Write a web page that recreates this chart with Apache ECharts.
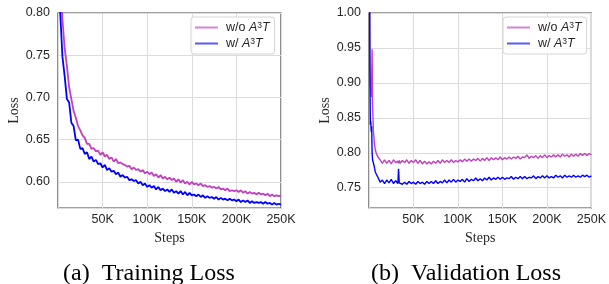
<!DOCTYPE html>
<html>
<head>
<meta charset="utf-8">
<script src="https://cdn.jsdelivr.net/npm/echarts@6/dist/echarts.min.js"></script>
<style>html,body{margin:0;padding:0;background:#fff;}#c{width:609px;height:284px;}</style>
</head>
<body>
<div id="c"></div>
<script>
// ---- data (steps in thousands) ----
const seriesNames = ['w/o A3T', 'w/ A3T'];
const xTickLabels = ['50K', '100K', '150K', '200K', '250K'];
const captions = ['(a)  Training Loss', '(b)  Validation Loss'];

const trainSteps = [
  1, 2.5, 5, 7.5, 10, 12.5, 15, 17.5, 20, 22.5,
  25, 27.5, 30, 32.5, 35, 37.5, 40, 42.5, 45, 47.5,
  50, 52.5, 55, 57.5, 60, 62.5, 65, 67.5, 70, 72.5,
  75, 77.5, 80, 82.5, 85, 87.5, 90, 92.5, 95, 97.5,
  100, 102.5, 105, 107.5, 110, 112.5, 115, 117.5, 120, 122.5,
  125, 127.5, 130, 132.5, 135, 137.5, 140, 142.5, 145, 147.5,
  150, 152.5, 155, 157.5, 160, 162.5, 165, 167.5, 170, 172.5,
  175, 177.5, 180, 182.5, 185, 187.5, 190, 192.5, 195, 197.5,
  200, 202.5, 205, 207.5, 210, 212.5, 215, 217.5, 220, 222.5,
  225, 227.5, 230, 232.5, 235, 237.5, 240, 242.5, 245, 247.5,
  250
];
const trainWo = [
  0.95, 0.862, 0.792, 0.758, 0.737, 0.712, 0.698, 0.684, 0.676, 0.666,
  0.661, 0.655, 0.652, 0.645, 0.645, 0.639, 0.640, 0.636, 0.637, 0.632,
  0.635, 0.630, 0.632, 0.627, 0.629, 0.624, 0.627, 0.622, 0.623, 0.621,
  0.620, 0.618, 0.619, 0.615, 0.617, 0.614, 0.615, 0.612, 0.614, 0.610,
  0.612, 0.609, 0.611, 0.607, 0.609, 0.605, 0.608, 0.604, 0.606, 0.603,
  0.605, 0.602, 0.604, 0.600, 0.603, 0.599, 0.602, 0.598, 0.600, 0.597,
  0.600, 0.597, 0.598, 0.596, 0.598, 0.595, 0.596, 0.594, 0.595, 0.593,
  0.594, 0.592, 0.594, 0.591, 0.592, 0.590, 0.592, 0.589, 0.590, 0.589,
  0.590, 0.588, 0.590, 0.587, 0.589, 0.586, 0.588, 0.586, 0.587, 0.585,
  0.587, 0.585, 0.586, 0.584, 0.586, 0.583, 0.585, 0.583, 0.584, 0.583,
  0.584
];
const trainW = [
  0.90, 0.80, 0.748, 0.725, 0.698, 0.694, 0.670, 0.666, 0.649, 0.650,
  0.639, 0.640, 0.633, 0.635, 0.627, 0.630, 0.624, 0.626, 0.621, 0.622,
  0.617, 0.620, 0.614, 0.616, 0.612, 0.613, 0.609, 0.611, 0.606, 0.608,
  0.605, 0.606, 0.602, 0.603, 0.601, 0.602, 0.598, 0.600, 0.596, 0.598,
  0.594, 0.596, 0.593, 0.595, 0.591, 0.594, 0.590, 0.592, 0.589, 0.591,
  0.588, 0.591, 0.587, 0.589, 0.586, 0.589, 0.585, 0.588, 0.584, 0.587,
  0.584, 0.585, 0.583, 0.585, 0.582, 0.584, 0.581, 0.583, 0.581, 0.582,
  0.580, 0.582, 0.579, 0.581, 0.579, 0.580, 0.578, 0.580, 0.578, 0.579,
  0.577, 0.579, 0.576, 0.578, 0.576, 0.578, 0.575, 0.577, 0.575, 0.576,
  0.575, 0.576, 0.574, 0.576, 0.574, 0.575, 0.573, 0.575, 0.573, 0.574,
  0.573
];

const valSteps = [
  0.5, 1, 1.5, 2, 2.5, 3, 3.5, 4, 5, 6, 7, 8, 9,
  10, 12.5, 15, 17.5, 20, 22.5, 25, 27.5, 30, 32.5, 33.2, 34,
  35, 37.5, 40, 42.5, 45, 47.5,
  50, 52.5, 55, 57.5, 60, 62.5, 65, 67.5, 70, 72.5,
  75, 77.5, 80, 82.5, 85, 87.5, 90, 92.5, 95, 97.5,
  100, 102.5, 105, 107.5, 110, 112.5, 115, 117.5, 120, 122.5,
  125, 127.5, 130, 132.5, 135, 137.5, 140, 142.5, 145, 147.5,
  150, 152.5, 155, 157.5, 160, 162.5, 165, 167.5, 170, 172.5,
  175, 177.5, 180, 182.5, 185, 187.5, 190, 192.5, 195, 197.5,
  200, 202.5, 205, 207.5, 210, 212.5, 215, 217.5, 220, 222.5,
  225, 227.5, 230, 232.5, 235, 237.5, 240, 242.5, 245, 247.5,
  250
];
const valWo = [
  1.10, 0.93, 0.90, 0.89, 0.88, 0.90, 0.948, 0.87, 0.83, 0.815, 0.805, 0.80, 0.797,
  0.794, 0.790, 0.785, 0.790, 0.785, 0.789, 0.784, 0.790, 0.786, 0.788, 0.785, 0.789,
  0.785, 0.789, 0.786, 0.790, 0.785, 0.789,
  0.786, 0.790, 0.785, 0.789, 0.784, 0.788, 0.784, 0.787, 0.784, 0.788,
  0.785, 0.789, 0.785, 0.790, 0.786, 0.789, 0.786, 0.790, 0.786, 0.789,
  0.787, 0.790, 0.787, 0.791, 0.788, 0.791, 0.788, 0.791, 0.789, 0.792,
  0.788, 0.792, 0.789, 0.793, 0.789, 0.793, 0.790, 0.793, 0.790, 0.794,
  0.790, 0.793, 0.791, 0.794, 0.791, 0.794, 0.792, 0.795, 0.791, 0.794,
  0.793, 0.797, 0.792, 0.795, 0.793, 0.796, 0.792, 0.796, 0.793, 0.797,
  0.793, 0.796, 0.794, 0.797, 0.794, 0.797, 0.794, 0.798, 0.795, 0.797,
  0.794, 0.798, 0.795, 0.798, 0.795, 0.799, 0.796, 0.799, 0.796, 0.799,
  0.797
];
const valW = [
  1.10, 0.92, 0.84, 0.845, 0.83, 0.838, 0.80, 0.79, 0.785, 0.78, 0.773, 0.770, 0.768,
  0.765, 0.758, 0.761, 0.756, 0.761, 0.757, 0.762, 0.756, 0.760, 0.756, 0.777, 0.757,
  0.759, 0.755, 0.758, 0.755, 0.759, 0.756,
  0.758, 0.755, 0.759, 0.756, 0.758, 0.755, 0.759, 0.756, 0.759, 0.756,
  0.760, 0.756, 0.759, 0.757, 0.761, 0.757, 0.761, 0.758, 0.762, 0.758,
  0.761, 0.759, 0.762, 0.758, 0.763, 0.759, 0.762, 0.760, 0.764, 0.760,
  0.763, 0.760, 0.764, 0.761, 0.765, 0.761, 0.764, 0.762, 0.765, 0.762,
  0.765, 0.762, 0.764, 0.763, 0.766, 0.762, 0.765, 0.763, 0.766, 0.763,
  0.766, 0.763, 0.765, 0.764, 0.767, 0.763, 0.766, 0.764, 0.767, 0.764,
  0.767, 0.764, 0.766, 0.764, 0.768, 0.765, 0.767, 0.764, 0.768, 0.765,
  0.767, 0.765, 0.768, 0.765, 0.767, 0.765, 0.768, 0.766, 0.768, 0.765,
  0.767
];

const colorWo = '#c040c0';
const colorW = '#0000ff';

function pairs(xs, ys) { return xs.map((x, i) => [x, ys[i]]); }

const chart = echarts.init(document.getElementById('c'), null, { renderer: 'canvas' });

const sans = 'Liberation Sans';
const serif = 'Liberation Serif';
const textColor = '#262626';

function xAxisCfg(gi) {
  return {
    type: 'value', gridIndex: gi, min: 0, max: 250, interval: 50,
    axisLine: { show: false }, axisTick: { show: false },
    splitLine: { show: true, lineStyle: { color: '#dcdcdc', width: 1 } },
    axisLabel: {
      fontFamily: sans, fontSize: 12.5, color: textColor, margin: 5,
      formatter: v => { const i = Math.round(v / 50) - 1; return (i >= 0 && i < xTickLabels.length) ? xTickLabels[i] : ''; }
    },
    name: 'Steps', nameLocation: 'middle', nameGap: 21,
    nameTextStyle: { fontFamily: serif, fontSize: 14, color: textColor }
  };
}
function yAxisCfg(gi, mn, mx) {
  return {
    type: 'value', gridIndex: gi, min: mn, max: mx,
    axisLine: { show: false }, axisTick: { show: false },
    splitLine: { show: true, lineStyle: { color: '#dcdcdc', width: 1 } },
    axisLabel: {
      fontFamily: sans, fontSize: 12.5, color: textColor, margin: 8,
      formatter: v => (Math.abs(v * 20 - Math.round(v * 20)) < 1e-6 ? v.toFixed(2) : '')
    },
    name: 'Loss', nameLocation: 'middle', nameGap: 35,
    nameTextStyle: { fontFamily: serif, fontSize: 14, color: textColor }
  };
}
function legendCfg(left) {
  return {
    orient: 'vertical', left: left, top: 17,
    data: seriesNames,
    icon: 'rect', itemWidth: 23, itemHeight: 2, itemGap: 3,
    padding: [4, 5, 4, 4],
    backgroundColor: 'rgba(255,255,255,0.85)',
    borderColor: '#d6d6d6', borderWidth: 1, borderRadius: 3,
    itemStyle: { opacity: 0.65 },
    selectedMode: false,
    formatter: name => (name === seriesNames[0] ? '{n|w/o }' : '{n|w/ }') + '{i|A}{s|3}{i|T}',
    textStyle: {
      color: textColor, fontFamily: sans, fontSize: 12.5,
      rich: {
        n: { fontFamily: sans, fontSize: 12.5, lineHeight: 13, color: textColor, padding: [0, 0, 0, 3] },
        i: { fontFamily: sans, fontSize: 12.5, lineHeight: 13, fontStyle: 'italic', color: textColor },
        s: { fontFamily: sans, fontSize: 8.5, lineHeight: 7, verticalAlign: 'top', color: textColor }
      }
    }
  };
}
function line(name, xi, data, color, w) {
  return {
    name: name, type: 'line', xAxisIndex: xi, yAxisIndex: xi,
    data: data, showSymbol: false, symbol: 'none', clip: true,
    lineStyle: { color: color, width: w }, itemStyle: { color: color },
    emphasis: { disabled: true }
  };
}

chart.setOption({
  animation: false,
  backgroundColor: '#ffffff',
  grid: [
    { left: 58, top: 13, width: 223, height: 195, show: true, borderColor: '#444', borderWidth: 1.2, backgroundColor: 'transparent' },
    { left: 369, top: 13, width: 223, height: 195, show: true, borderColor: '#444', borderWidth: 1.2, backgroundColor: 'transparent' }
  ],
  xAxis: [xAxisCfg(0), xAxisCfg(1)],
  yAxis: [yAxisCfg(0, 0.569, 0.80), yAxisCfg(1, 0.721, 1.0)],
  legend: [legendCfg(191), legendCfg(503)],
  series: [
    line(seriesNames[0], 0, pairs(trainSteps, trainWo), colorWo, 1.8),
    line(seriesNames[1], 0, pairs(trainSteps, trainW), colorW, 1.8),
    line(seriesNames[0], 1, pairs(valSteps, valWo), colorWo, 1.4),
    line(seriesNames[1], 1, pairs(valSteps, valW), colorW, 1.4)
  ],
  graphic: [
    { type: 'text', x: 149, y: 274, style: { text: captions[0], font: '24px "Liberation Serif"', fill: '#000', textAlign: 'center', textVerticalAlign: 'middle' } },
    { type: 'text', x: 466, y: 274, style: { text: captions[1], font: '24px "Liberation Serif"', fill: '#000', textAlign: 'center', textVerticalAlign: 'middle' } }
  ]
});
</script>
</body>
</html>
